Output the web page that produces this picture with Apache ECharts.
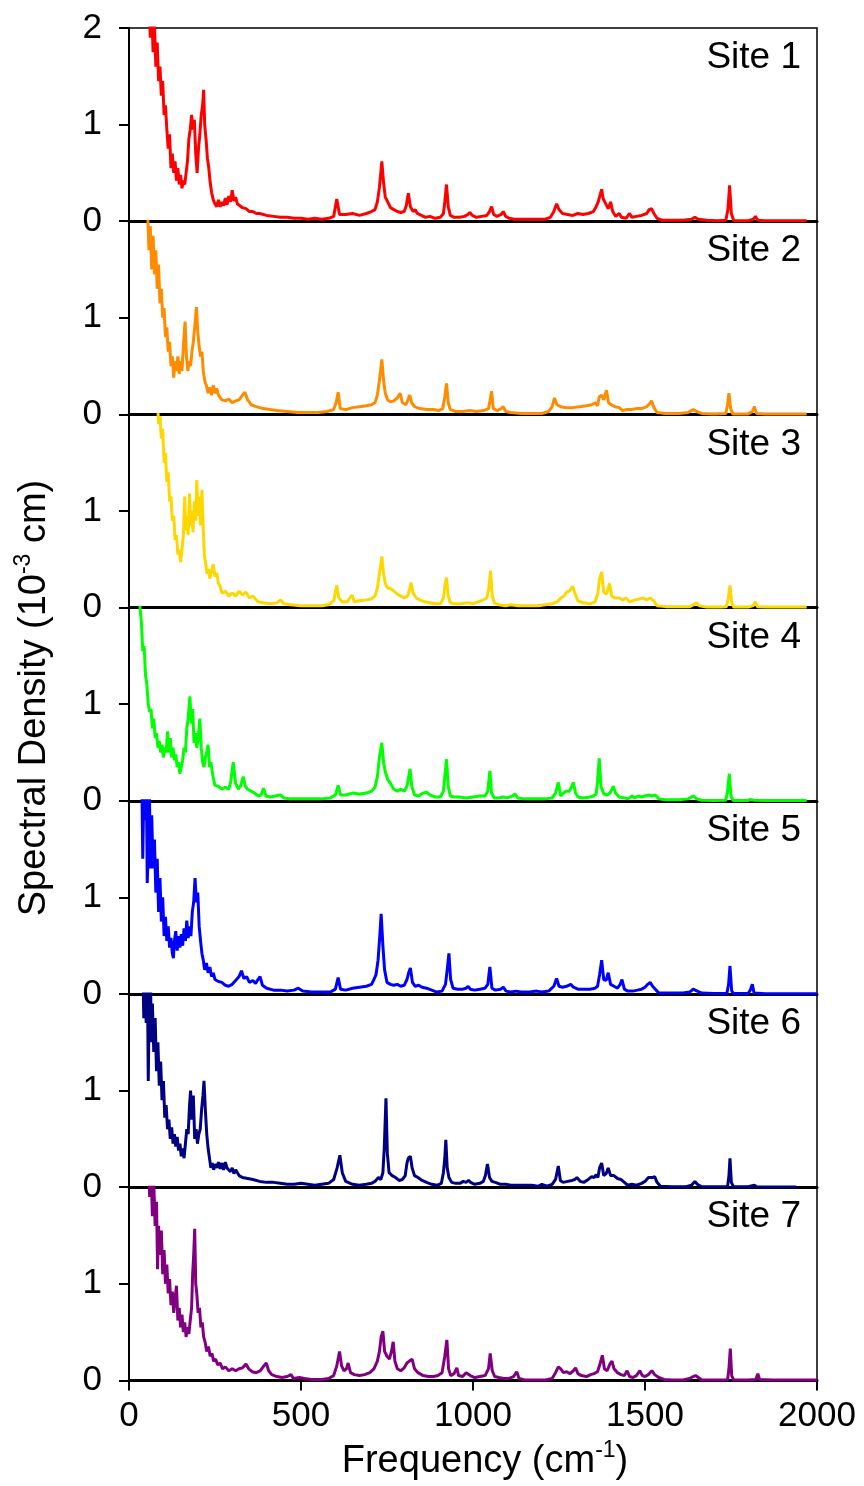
<!DOCTYPE html>
<html>
<head>
<meta charset="utf-8">
<script src="https://cdn.jsdelivr.net/npm/echarts@6/dist/echarts.min.js"></script>
<style>
  html, body { margin: 0; padding: 0; background: #fff; }
  #chart { width: 864px; height: 1486px; }
</style>
</head>
<body>
<div id="chart"></div>
<script>
// panel names / colours
const siteNames = ['Site 1', 'Site 2', 'Site 3', 'Site 4', 'Site 5', 'Site 6', 'Site 7']
const siteColors = ['#ff0000', '#ff8c00', '#ffd700', '#00ff00', '#0000ff', '#000080', '#800080']
const freqTicks = [0, 500, 1000, 1500, 2000]
const densityTicks = [0, 1, 2]

// [frequency (cm-1), spectral density (10^-3 cm)]
const site1 = [[50,2.6],[58,2.3],[62,1.9],[66,2.2],[70,1.75],[74,2.05],[78,1.6],[82,1.85],[86,1.45],[90,1.6],[94,1.3],[98,1.45],[102,1.1],[106,1.2],[110,0.95],[114,0.75],[118,0.9],[122,0.55],[126,0.7],[130,0.5],[134,0.62],[138,0.42],[142,0.55],[146,0.38],[150,0.48],[154,0.34],[158,0.42],[162,0.38],[166,0.5],[170,0.62],[174,0.85],[178,0.95],[182,1.1],[186,0.95],[190,1.05],[194,0.7],[198,0.5],[202,0.75],[206,0.9],[210,1.1],[214,1.2],[217,1.36],[220,1.0],[224,0.85],[228,0.65],[232,0.55],[236,0.4],[240,0.3],[245,0.22],[250,0.18],[255,0.15],[260,0.22],[265,0.15],[270,0.2],[275,0.16],[280,0.24],[285,0.17],[290,0.26],[295,0.2],[300,0.32],[305,0.21],[310,0.25],[315,0.18],[320,0.2],[330,0.14],[340,0.13],[350,0.1],[360,0.1],[370,0.08],[380,0.08],[400,0.06],[420,0.05],[440,0.04],[460,0.04],[480,0.03],[500,0.03],[520,0.02],[540,0.03],[560,0.02],[580,0.03],[595,0.05],[604,0.23],[612,0.07],[630,0.07],[650,0.08],[670,0.06],[690,0.08],[705,0.1],[715,0.12],[722,0.2],[728,0.35],[735,0.62],[740,0.4],[745,0.25],[752,0.2],[760,0.14],[770,0.12],[780,0.1],[790,0.09],[800,0.1],[806,0.16],[812,0.29],[818,0.15],[826,0.1],[832,0.12],[838,0.08],[850,0.06],[862,0.04],[875,0.05],[890,0.03],[905,0.04],[914,0.08],[918,0.2],[923,0.38],[928,0.15],[934,0.06],[945,0.04],[960,0.04],[975,0.05],[985,0.07],[991,0.09],[998,0.06],[1010,0.04],[1025,0.05],[1040,0.06],[1048,0.1],[1054,0.15],[1060,0.07],[1070,0.05],[1082,0.07],[1088,0.1],[1095,0.05],[1105,0.03],[1120,0.02],[1150,0.02],[1180,0.02],[1210,0.02],[1225,0.04],[1235,0.1],[1243,0.18],[1250,0.12],[1260,0.08],[1275,0.07],[1290,0.06],[1305,0.08],[1320,0.07],[1335,0.08],[1350,0.1],[1358,0.15],[1364,0.2],[1370,0.28],[1374,0.33],[1378,0.24],[1383,0.2],[1388,0.22],[1393,0.13],[1400,0.2],[1406,0.1],[1415,0.05],[1425,0.08],[1432,0.04],[1445,0.03],[1455,0.08],[1462,0.04],[1475,0.05],[1490,0.06],[1505,0.08],[1512,0.12],[1519,0.13],[1526,0.08],[1535,0.03],[1550,0.01],[1580,0.01],[1610,0.01],[1635,0.02],[1645,0.04],[1655,0.02],[1680,0.01],[1710,0.005],[1735,0.01],[1741,0.12],[1746,0.37],[1751,0.08],[1758,0.005],[1800,0.005],[1815,0.02],[1821,0.05],[1828,0.01],[1850,0.005],[1900,0.005],[1970,0.005]]

const site2 = [[50,2.4],[54,2.1],[58,1.7],[62,1.95],[66,1.5],[70,1.85],[74,1.45],[78,1.7],[82,1.3],[86,1.55],[90,1.15],[94,1.3],[98,1.0],[102,1.1],[106,0.8],[110,0.9],[114,0.65],[118,0.75],[122,0.5],[126,0.6],[130,0.38],[134,0.55],[138,0.45],[142,0.6],[146,0.42],[150,0.55],[154,0.45],[158,0.7],[163,0.96],[167,0.6],[171,0.45],[175,0.55],[179,0.5],[183,0.65],[187,0.75],[191,0.9],[196,1.11],[200,0.85],[204,0.7],[208,0.6],[212,0.65],[216,0.45],[220,0.35],[225,0.3],[230,0.22],[235,0.28],[240,0.2],[245,0.3],[250,0.22],[255,0.27],[260,0.2],[265,0.18],[270,0.15],[280,0.14],[290,0.16],[300,0.12],[310,0.14],[320,0.15],[330,0.2],[337,0.23],[345,0.15],[355,0.1],[370,0.08],[390,0.06],[410,0.05],[430,0.04],[460,0.03],[490,0.02],[520,0.02],[550,0.02],[575,0.03],[595,0.05],[602,0.12],[608,0.23],[614,0.06],[630,0.05],[650,0.07],[670,0.08],[690,0.09],[705,0.1],[715,0.12],[722,0.2],[728,0.35],[735,0.57],[740,0.35],[745,0.22],[752,0.15],[760,0.13],[770,0.14],[780,0.17],[788,0.22],[795,0.12],[805,0.1],[811,0.15],[816,0.2],[822,0.12],[830,0.08],[845,0.06],[865,0.05],[885,0.05],[900,0.04],[912,0.06],[918,0.18],[923,0.32],[928,0.12],[934,0.05],[950,0.03],[970,0.03],[990,0.04],[1010,0.03],[1030,0.04],[1045,0.06],[1050,0.15],[1054,0.24],[1059,0.06],[1070,0.04],[1082,0.06],[1088,0.08],[1095,0.03],[1110,0.02],[1140,0.01],[1170,0.01],[1200,0.01],[1220,0.03],[1230,0.08],[1237,0.17],[1244,0.1],[1255,0.08],[1270,0.07],[1290,0.07],[1310,0.08],[1330,0.09],[1345,0.1],[1355,0.12],[1362,0.09],[1367,0.18],[1374,0.2],[1380,0.15],[1388,0.25],[1394,0.12],[1402,0.1],[1412,0.08],[1425,0.07],[1435,0.04],[1448,0.05],[1460,0.05],[1475,0.06],[1490,0.06],[1505,0.08],[1513,0.11],[1519,0.14],[1526,0.07],[1535,0.02],[1560,0.01],[1600,0.01],[1625,0.02],[1640,0.05],[1650,0.03],[1665,0.01],[1700,0.005],[1735,0.01],[1740,0.1],[1744,0.22],[1749,0.06],[1755,0.005],[1800,0.005],[1812,0.03],[1818,0.08],[1824,0.01],[1850,0.005],[1900,0.005],[1970,0.005]]

const site3 = [[75,2.5],[82,2.2],[86,1.9],[90,1.98],[94,1.75],[98,1.85],[102,1.5],[106,1.6],[110,1.3],[114,1.4],[118,1.1],[122,1.15],[126,0.9],[130,0.95],[134,0.7],[138,0.75],[142,0.55],[146,0.6],[150,0.47],[154,0.6],[158,0.75],[162,1.15],[165,0.8],[169,0.95],[172,0.75],[176,1.18],[179,0.85],[183,1.0],[186,0.78],[190,1.1],[194,0.9],[197,1.32],[201,0.95],[205,1.15],[208,0.85],[212,1.22],[216,0.8],[219,0.55],[223,0.45],[227,0.35],[231,0.4],[235,0.3],[240,0.38],[245,0.45],[250,0.32],[255,0.36],[260,0.25],[265,0.22],[270,0.15],[280,0.17],[290,0.12],[300,0.15],[310,0.12],[320,0.17],[330,0.13],[340,0.16],[350,0.1],[360,0.12],[375,0.06],[390,0.05],[410,0.04],[430,0.05],[441,0.08],[450,0.04],[470,0.03],[500,0.02],[530,0.02],[560,0.02],[580,0.03],[595,0.07],[604,0.23],[610,0.1],[620,0.06],[635,0.06],[642,0.1],[648,0.13],[655,0.06],[670,0.07],[690,0.08],[705,0.09],[715,0.12],[722,0.2],[728,0.35],[735,0.53],[740,0.35],[745,0.25],[752,0.2],[760,0.2],[770,0.17],[780,0.14],[790,0.12],[800,0.1],[810,0.12],[815,0.18],[820,0.26],[826,0.15],[835,0.1],[845,0.08],[860,0.06],[875,0.05],[890,0.04],[905,0.04],[914,0.1],[918,0.22],[923,0.31],[928,0.12],[934,0.05],[945,0.04],[965,0.04],[985,0.05],[1000,0.04],[1015,0.06],[1030,0.08],[1040,0.1],[1046,0.2],[1051,0.38],[1056,0.12],[1062,0.05],[1075,0.03],[1095,0.02],[1110,0.03],[1130,0.02],[1160,0.02],[1190,0.02],[1210,0.03],[1230,0.04],[1245,0.06],[1255,0.1],[1265,0.12],[1272,0.16],[1280,0.17],[1290,0.22],[1296,0.15],[1305,0.07],[1320,0.05],[1340,0.04],[1355,0.06],[1363,0.15],[1368,0.3],[1374,0.37],[1380,0.16],[1388,0.14],[1397,0.25],[1403,0.12],[1412,0.1],[1425,0.1],[1435,0.08],[1445,0.1],[1455,0.06],[1470,0.08],[1485,0.09],[1495,0.1],[1505,0.08],[1515,0.1],[1525,0.07],[1535,0.02],[1560,0.01],[1600,0.01],[1630,0.01],[1642,0.03],[1650,0.05],[1658,0.02],[1680,0.005],[1720,0.005],[1737,0.01],[1742,0.1],[1747,0.23],[1752,0.05],[1758,0.005],[1800,0.005],[1815,0.02],[1821,0.06],[1827,0.01],[1850,0.005],[1920,0.005],[1970,0.005]]

const site4 = [[28,2.4],[32,2.0],[36,1.85],[40,1.55],[44,1.6],[48,1.3],[52,1.2],[56,1.0],[60,0.92],[64,0.95],[68,0.75],[72,0.85],[76,0.65],[80,0.7],[84,0.55],[88,0.62],[92,0.5],[96,0.58],[100,0.45],[104,0.55],[108,0.5],[112,0.72],[116,0.5],[120,0.65],[124,0.45],[128,0.55],[132,0.42],[136,0.48],[140,0.35],[144,0.4],[148,0.28],[152,0.35],[156,0.42],[160,0.55],[164,0.5],[168,0.75],[172,0.85],[177,1.08],[181,0.8],[185,0.95],[189,0.6],[193,0.7],[197,0.55],[201,0.65],[206,0.85],[210,0.55],[214,0.4],[218,0.35],[222,0.45],[226,0.5],[230,0.58],[234,0.35],[238,0.4],[242,0.3],[246,0.22],[250,0.16],[260,0.15],[270,0.12],[280,0.14],[290,0.12],[296,0.2],[303,0.4],[310,0.18],[318,0.12],[325,0.16],[332,0.25],[338,0.15],[345,0.12],[355,0.1],[365,0.08],[375,0.05],[384,0.06],[391,0.13],[398,0.05],[410,0.04],[425,0.05],[440,0.06],[450,0.03],[470,0.02],[500,0.02],[530,0.02],[560,0.02],[585,0.03],[600,0.06],[608,0.16],[615,0.06],[630,0.06],[650,0.08],[670,0.07],[690,0.08],[705,0.1],[715,0.14],[722,0.25],[728,0.45],[735,0.6],[740,0.4],[745,0.3],[752,0.22],[760,0.18],[770,0.12],[780,0.1],[790,0.12],[800,0.1],[808,0.15],[813,0.25],[817,0.33],[822,0.15],[830,0.06],[842,0.05],[855,0.08],[865,0.09],[875,0.06],[890,0.04],[905,0.04],[914,0.1],[918,0.25],[923,0.43],[928,0.15],[934,0.05],[945,0.04],[960,0.04],[980,0.03],[1000,0.04],[1020,0.05],[1035,0.05],[1043,0.1],[1049,0.31],[1054,0.08],[1062,0.03],[1075,0.03],[1088,0.04],[1100,0.03],[1115,0.05],[1122,0.07],[1130,0.03],[1150,0.02],[1180,0.02],[1210,0.02],[1230,0.03],[1240,0.08],[1248,0.19],[1255,0.05],[1263,0.08],[1270,0.1],[1280,0.1],[1286,0.14],[1292,0.19],[1298,0.08],[1305,0.04],[1320,0.03],[1340,0.04],[1350,0.05],[1358,0.07],[1362,0.2],[1367,0.44],[1372,0.15],[1380,0.07],[1390,0.06],[1398,0.08],[1404,0.12],[1408,0.15],[1414,0.08],[1425,0.04],[1440,0.03],[1450,0.02],[1462,0.05],[1470,0.03],[1480,0.05],[1490,0.04],[1500,0.05],[1510,0.06],[1520,0.05],[1530,0.06],[1540,0.02],[1560,0.01],[1600,0.01],[1625,0.02],[1635,0.04],[1642,0.05],[1650,0.02],[1665,0.005],[1700,0.003],[1735,0.005],[1740,0.1],[1745,0.28],[1750,0.05],[1756,0.003],[1800,0.003],[1806,0.015],[1811,0.03],[1817,0.005],[1850,0.003],[1920,0.003],[1970,0.003]]

const site5 = [[37,2.3],[40,1.4],[43,2.1],[47,1.8],[50,2.4],[53,1.15],[56,1.5],[59,2.2],[62,1.3],[66,1.85],[70,1.3],[74,1.6],[78,1.05],[82,1.4],[86,0.85],[90,1.2],[94,0.75],[98,1.0],[102,0.6],[106,0.8],[110,0.55],[114,0.7],[118,0.48],[122,0.58],[126,0.42],[129,0.37],[132,0.55],[136,0.65],[140,0.45],[144,0.6],[148,0.48],[152,0.62],[156,0.5],[160,0.68],[164,0.55],[168,0.76],[172,0.58],[176,0.7],[180,0.6],[184,0.85],[188,0.95],[192,1.2],[196,0.95],[200,1.05],[204,0.7],[208,0.55],[212,0.42],[216,0.35],[220,0.25],[225,0.32],[230,0.22],[235,0.28],[240,0.18],[245,0.22],[250,0.15],[260,0.13],[270,0.12],[280,0.09],[290,0.08],[300,0.1],[310,0.14],[320,0.18],[327,0.24],[334,0.16],[342,0.18],[350,0.12],[360,0.14],[368,0.11],[375,0.15],[381,0.18],[388,0.09],[400,0.06],[420,0.04],[440,0.04],[460,0.03],[480,0.04],[492,0.06],[505,0.03],[530,0.02],[560,0.02],[585,0.02],[600,0.05],[608,0.17],[615,0.05],[630,0.04],[650,0.06],[670,0.07],[690,0.08],[705,0.1],[712,0.15],[718,0.2],[724,0.35],[729,0.6],[733,0.83],[738,0.5],[743,0.25],[750,0.12],[760,0.1],[770,0.09],[780,0.1],[790,0.08],[800,0.09],[808,0.15],[813,0.22],[818,0.27],[824,0.12],[832,0.08],[842,0.09],[852,0.07],[865,0.06],[880,0.04],[895,0.02],[910,0.03],[920,0.1],[925,0.25],[930,0.42],[935,0.15],[942,0.06],[955,0.05],[970,0.05],[980,0.06],[986,0.08],[992,0.05],[1005,0.04],[1020,0.05],[1035,0.06],[1043,0.1],[1049,0.28],[1055,0.06],[1065,0.04],[1080,0.05],[1088,0.07],[1096,0.03],[1110,0.02],[1125,0.03],[1140,0.02],[1165,0.02],[1185,0.03],[1200,0.02],[1220,0.03],[1235,0.08],[1243,0.16],[1250,0.08],[1260,0.07],[1272,0.08],[1284,0.1],[1292,0.07],[1305,0.05],[1320,0.05],[1340,0.05],[1355,0.06],[1362,0.08],[1368,0.2],[1374,0.35],[1380,0.15],[1387,0.14],[1393,0.22],[1400,0.1],[1410,0.08],[1420,0.06],[1428,0.1],[1433,0.15],[1440,0.05],[1450,0.03],[1465,0.03],[1478,0.04],[1490,0.05],[1500,0.07],[1508,0.1],[1515,0.12],[1522,0.08],[1530,0.05],[1540,0.01],[1570,0.01],[1610,0.01],[1630,0.02],[1640,0.05],[1645,0.07],[1652,0.03],[1665,0.01],[1700,0.005],[1738,0.005],[1743,0.1],[1747,0.29],[1752,0.03],[1758,0.005],[1800,0.005],[1806,0.04],[1812,0.1],[1817,0.01],[1850,0.002],[1920,0.002],[2000,0.002]]

const site6 = [[40,2.3],[43,1.75],[46,2.1],[50,1.7],[53,2.4],[56,1.1],[59,2.0],[62,2.3],[65,1.5],[68,1.9],[72,1.4],[76,1.75],[80,1.2],[84,1.5],[88,1.05],[92,1.3],[96,0.9],[100,1.1],[104,0.72],[108,0.85],[112,0.6],[116,0.7],[120,0.5],[124,0.62],[128,0.45],[132,0.55],[136,0.42],[140,0.52],[144,0.38],[148,0.45],[152,0.32],[156,0.4],[160,0.3],[164,0.45],[168,0.6],[172,0.55],[176,0.85],[179,1.0],[183,0.7],[187,0.95],[191,0.5],[195,0.6],[199,0.45],[203,0.55],[207,0.6],[211,0.8],[215,0.95],[218,1.1],[222,0.8],[226,0.55],[230,0.4],[234,0.3],[238,0.2],[242,0.25],[246,0.18],[250,0.24],[255,0.2],[260,0.26],[265,0.19],[270,0.25],[275,0.18],[280,0.26],[285,0.2],[290,0.22],[295,0.16],[300,0.2],[305,0.14],[310,0.18],[320,0.12],[330,0.1],[345,0.09],[360,0.08],[380,0.06],[400,0.05],[420,0.05],[440,0.04],[460,0.03],[480,0.03],[500,0.04],[520,0.03],[540,0.02],[560,0.03],[580,0.04],[595,0.08],[605,0.2],[613,0.33],[620,0.15],[630,0.06],[650,0.03],[670,0.02],[690,0.03],[705,0.04],[715,0.06],[725,0.1],[732,0.08],[738,0.15],[742,0.4],[747,0.92],[751,0.35],[756,0.15],[765,0.12],[775,0.1],[785,0.07],[795,0.08],[803,0.12],[808,0.25],[812,0.3],[818,0.32],[823,0.2],[830,0.12],[840,0.1],[852,0.07],[865,0.05],[880,0.03],[895,0.02],[908,0.04],[914,0.15],[918,0.3],[921,0.49],[925,0.2],[930,0.1],[938,0.05],[950,0.04],[962,0.04],[972,0.06],[980,0.05],[987,0.07],[993,0.05],[1005,0.03],[1020,0.04],[1030,0.06],[1036,0.12],[1042,0.24],[1048,0.1],[1055,0.06],[1065,0.05],[1080,0.03],[1095,0.03],[1110,0.02],[1130,0.02],[1150,0.02],[1170,0.02],[1190,0.01],[1200,0.03],[1215,0.01],[1230,0.03],[1240,0.08],[1248,0.22],[1254,0.07],[1262,0.05],[1275,0.06],[1288,0.07],[1296,0.08],[1302,0.1],[1306,0.12],[1312,0.06],[1322,0.05],[1335,0.08],[1345,0.11],[1352,0.1],[1358,0.13],[1363,0.1],[1368,0.2],[1374,0.25],[1380,0.12],[1387,0.14],[1393,0.2],[1400,0.12],[1410,0.12],[1420,0.09],[1430,0.08],[1440,0.05],[1450,0.02],[1462,0.03],[1475,0.02],[1490,0.04],[1500,0.06],[1510,0.1],[1515,0.12],[1522,0.1],[1528,0.11],[1535,0.05],[1545,0.01],[1580,0.005],[1620,0.005],[1635,0.02],[1645,0.06],[1652,0.03],[1665,0.005],[1700,0.005],[1740,0.005],[1744,0.12],[1747,0.3],[1751,0.05],[1757,0.005],[1800,0.005],[1812,0.015],[1818,0.02],[1825,0.005],[1870,0.003],[1940,0.003]]

const site7 = [[47,2.5],[52,2.1],[56,2.3],[60,1.9],[64,2.2],[68,1.7],[72,2.05],[76,1.6],[80,1.85],[83,1.15],[86,1.6],[90,1.3],[94,1.55],[98,1.1],[102,1.35],[106,1.0],[110,1.2],[114,0.9],[118,1.05],[122,0.78],[126,0.92],[130,0.7],[134,0.85],[138,0.98],[142,0.62],[146,0.75],[150,0.55],[154,0.68],[158,0.5],[162,0.6],[166,0.45],[170,0.55],[174,0.48],[178,0.62],[182,0.75],[185,1.1],[188,1.3],[191,1.57],[194,1.0],[197,0.9],[201,0.7],[205,0.75],[209,0.55],[213,0.6],[217,0.45],[221,0.4],[226,0.3],[231,0.35],[236,0.25],[241,0.28],[246,0.2],[252,0.22],[258,0.16],[265,0.18],[272,0.12],[280,0.14],[290,0.1],[300,0.12],[310,0.1],[320,0.12],[330,0.13],[340,0.17],[348,0.12],[358,0.09],[370,0.08],[382,0.1],[392,0.15],[399,0.18],[406,0.1],[415,0.06],[430,0.04],[445,0.03],[460,0.04],[471,0.06],[478,0.02],[495,0.03],[510,0.02],[530,0.01],[560,0.01],[580,0.02],[595,0.05],[604,0.15],[612,0.3],[618,0.15],[625,0.1],[632,0.12],[637,0.18],[644,0.08],[655,0.06],[670,0.05],[685,0.06],[700,0.08],[712,0.12],[722,0.2],[728,0.3],[733,0.45],[738,0.51],[743,0.3],[750,0.25],[757,0.22],[763,0.3],[768,0.4],[773,0.2],[780,0.12],[790,0.1],[800,0.13],[808,0.18],[815,0.2],[823,0.22],[830,0.12],[840,0.08],[855,0.05],[870,0.04],[885,0.04],[898,0.05],[910,0.08],[918,0.25],[924,0.42],[929,0.12],[935,0.05],[945,0.07],[953,0.13],[958,0.05],[970,0.04],[980,0.08],[985,0.1],[992,0.05],[1005,0.03],[1020,0.04],[1035,0.05],[1045,0.12],[1050,0.28],[1056,0.1],[1063,0.04],[1075,0.03],[1090,0.02],[1105,0.02],[1118,0.04],[1127,0.09],[1134,0.02],[1150,0.005],[1180,0.005],[1210,0.005],[1230,0.02],[1240,0.08],[1248,0.14],[1255,0.12],[1263,0.08],[1272,0.09],[1282,0.07],[1292,0.1],[1298,0.13],[1305,0.07],[1315,0.05],[1330,0.04],[1342,0.06],[1352,0.07],[1362,0.09],[1370,0.18],[1376,0.26],[1382,0.12],[1390,0.1],[1398,0.17],[1404,0.2],[1410,0.12],[1420,0.08],[1430,0.06],[1440,0.05],[1448,0.1],[1455,0.04],[1465,0.03],[1475,0.05],[1485,0.1],[1492,0.05],[1500,0.04],[1510,0.06],[1520,0.1],[1528,0.06],[1540,0.03],[1555,0.01],[1580,0.005],[1610,0.005],[1630,0.02],[1640,0.04],[1647,0.05],[1655,0.03],[1665,0.005],[1700,0.003],[1740,0.005],[1744,0.12],[1748,0.33],[1752,0.05],[1758,0.003],[1800,0.003],[1822,0.01],[1828,0.07],[1833,0.01],[1870,0.003],[1950,0.003],[2000,0.003]]

const sites = [site1, site2, site3, site4, site5, site6, site7]

const FONT = '"Liberation Sans", Arial, sans-serif'
const panelTop = 28
const panelH = 193.2
const plotLeft = 129
const plotRight = 817

const chart = echarts.init(document.getElementById('chart'), null, { renderer: 'canvas' })

const grid = []
const xAxis = []
const yAxis = []
const series = []
const graphic = []

sites.forEach((data, i) => {
  const top = panelTop + i * panelH
  const last = i === sites.length - 1
  grid.push({
    left: plotLeft, top: top, width: plotRight - plotLeft, height: panelH,
    show: true, borderColor: '#000', borderWidth: 1.5
  })
  xAxis.push({
    gridIndex: i, type: 'value',
    min: freqTicks[0], max: freqTicks[freqTicks.length - 1], interval: 500,
    axisLine: { show: true, onZero: false, lineStyle: { color: '#000', width: 3 } },
    axisTick: { show: last, length: 10, lineStyle: { color: '#000', width: 2 } },
    axisLabel: {
      show: last, fontSize: 35, color: '#000', fontFamily: FONT, margin: 18,
      formatter: v => String(v) // no thousands separator
    },
    splitLine: { show: false }
  })
  yAxis.push({
    gridIndex: i, type: 'value',
    min: densityTicks[0], max: densityTicks[densityTicks.length - 1], interval: 1,
    axisLine: { show: true, lineStyle: { color: '#000', width: 2 } },
    axisTick: { show: true, length: 10, lineStyle: { color: '#000', width: 2 } },
    axisLabel: {
      fontSize: 35, color: '#000', fontFamily: FONT, margin: 27,
      showMaxLabel: i === 0, showMinLabel: true
    },
    splitLine: { show: false }
  })
  series.push({
    name: siteNames[i], type: 'line',
    xAxisIndex: i, yAxisIndex: i,
    data: data,
    showSymbol: false, clip: true,
    lineStyle: { color: siteColors[i], width: 3 },
    itemStyle: { color: siteColors[i] }
  })
  // site label, top right of each panel
  graphic.push({
    type: 'text', x: plotRight - 16, y: top + 30, z: 10,
    style: {
      text: siteNames[i], fill: '#000',
      fontSize: 37, fontFamily: FONT,
      align: 'right', verticalAlign: 'middle'
    }
  })
})

// axis titles with superscripts
graphic.push({
  type: 'text', x: 485, y: 1462, z: 10,
  style: {
    text: '{a|Frequency (cm}{s|-1}{a|)}',
    align: 'center', verticalAlign: 'middle',
    rich: {
      a: { fontSize: 38, fontFamily: FONT, fill: '#000' },
      s: { fontSize: 23, fontFamily: FONT, fill: '#000', padding: [0, 0, 22, 0] }
    }
  }
})
graphic.push({
  type: 'text', x: 35, y: 698, rotation: Math.PI / 2, z: 10,
  style: {
    text: '{a|Spectral Density (10}{s|-3}{a| cm)}',
    align: 'center', verticalAlign: 'middle',
    rich: {
      a: { fontSize: 38, fontFamily: FONT, fill: '#000' },
      s: { fontSize: 23, fontFamily: FONT, fill: '#000', padding: [0, 0, 22, 0] }
    }
  }
})

chart.setOption({
  animation: false,
  backgroundColor: '#fff',
  grid: grid,
  xAxis: xAxis,
  yAxis: yAxis,
  series: series,
  graphic: graphic
})
</script>
</body>
</html>
